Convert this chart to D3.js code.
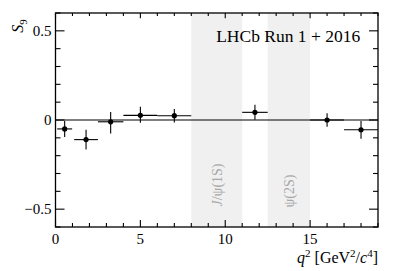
<!DOCTYPE html>
<html>
<head>
<meta charset="utf-8">
<script src="https://cdn.jsdelivr.net/npm/d3@7"></script>
<style>
  body { margin: 0; background: #fff; }
  svg { display: block; }
  text { font-family: "Liberation Serif", "DejaVu Serif", serif; }
</style>
</head>
<body>
<svg id="chart" width="399" height="271"></svg>
<script>
// bin edges, values and errors
const binLow  = [0.1, 1.1, 2.5, 4.0, 6.0, 11.0, 15.0, 17.0];
const binHigh = [0.98, 2.5, 4.0, 6.0, 8.0, 12.5, 17.0, 19.0];
const s9      = [-0.05, -0.11, -0.01, 0.026, 0.024, 0.043, 0.0, -0.055];
const errUp   = [0.045, 0.055, 0.055, 0.048, 0.038, 0.042, 0.038, 0.05];
const errDown = [0.045, 0.055, 0.065, 0.042, 0.038, 0.042, 0.038, 0.05];

const vetoBands = [
  { lo: 8.0, hi: 11.0, label: "J/ψ(1S)" },
  { lo: 12.5, hi: 15.0, label: "ψ(2S)" }
];
const yTickLabels = [0.5, 0, -0.5];
const xTickLabels = [0, 5, 10, 15];

const margin = { top: 13, right: 21, bottom: 44, left: 55.5 };
const W = 399, H = 271;
const width = W - margin.left - margin.right;
const height = H - margin.top - margin.bottom;

const svg = d3.select('#chart');
const g = svg.append('g').attr('transform', `translate(${margin.left},${margin.top})`);

const x = d3.scaleLinear().domain([0, 19]).range([0, width]);
const y = d3.scaleLinear().domain([-0.6, 0.6]).range([height, 0]);

// veto bands
g.selectAll('.band').data(vetoBands).enter().append('rect')
  .attr('x', d => x(d.lo)).attr('width', d => x(d.hi) - x(d.lo))
  .attr('y', 0).attr('height', height)
  .attr('fill', '#f0f0f0');

g.selectAll('.band-label').data(vetoBands).enter().append('text')
  .attr('transform', (d, i) => `translate(${x((d.lo + d.hi) / 2) + 5},${i === 0 ? 172 : 178}) rotate(-90)`)
  .attr('text-anchor', 'middle')
  .attr('fill', '#a8a8a8')
  .style('font-size', '14px')
  .each(function(d) {
    const t = d3.select(this);
    if (d.label.startsWith('J')) {
      t.append('tspan').style('font-style', 'italic').text('J');
      t.append('tspan').text(d.label.slice(1));
    } else {
      t.text(d.label);
    }
  });

// zero line
g.append('line')
  .attr('x1', 0).attr('x2', width)
  .attr('y1', y(0)).attr('y2', y(0))
  .attr('stroke', '#000').attr('stroke-width', 1.1);

// ticks on all four sides
const xMinor = d3.range(0, 20, 1);
const yMinor = d3.range(-6, 7).map(v => v / 10);
const tick = g.append('g').attr('stroke', '#000').attr('stroke-width', 1.1);
xMinor.forEach(v => {
  const len = v % 5 === 0 ? 7 : 4;
  tick.append('line').attr('x1', x(v)).attr('x2', x(v)).attr('y1', height).attr('y2', height - len);
  tick.append('line').attr('x1', x(v)).attr('x2', x(v)).attr('y1', 0).attr('y2', len * 0.75);
});
yMinor.forEach(v => {
  const len = Math.abs(Math.round(v * 10)) % 5 === 0 ? 9 : 5;
  tick.append('line').attr('x1', 0).attr('x2', len).attr('y1', y(v)).attr('y2', y(v));
  tick.append('line').attr('x1', width).attr('x2', width - len).attr('y1', y(v)).attr('y2', y(v));
});

// frame
g.append('rect').attr('width', width).attr('height', height)
  .attr('fill', 'none').attr('stroke', '#000').attr('stroke-width', 1.3);

// tick labels
g.selectAll('.ylab').data(yTickLabels).enter().append('text')
  .attr('x', -4).attr('y', d => y(d)).attr('dy', '0.35em')
  .attr('text-anchor', 'end').style('font-size', '15px')
  .text(d => d === 0 ? '0' : (d < 0 ? '\u2212' + Math.abs(d) : d));

g.selectAll('.xlab').data(xTickLabels).enter().append('text')
  .attr('x', d => x(d)).attr('y', height + 17)
  .attr('text-anchor', 'middle').style('font-size', '15px')
  .text(d => d);

// axis titles
const yt = svg.append('text')
  .attr('transform', 'translate(23,26) rotate(-90)')
  .attr('text-anchor', 'middle').style('font-size', '16px');
yt.append('tspan').style('font-style', 'italic').text('S');
yt.append('tspan').attr('dy', 4).style('font-size', '11px').text('9');

const xt = svg.append('text')
  .attr('x', margin.left + width).attr('y', 263)
  .attr('text-anchor', 'end').style('font-size', '16px');
xt.append('tspan').style('font-style', 'italic').text('q');
xt.append('tspan').attr('dy', -6).style('font-size', '11px').text('2');
xt.append('tspan').attr('dy', 6).text(' [GeV');
xt.append('tspan').attr('dy', -6).style('font-size', '11px').text('2');
xt.append('tspan').attr('dy', 6).text('/');
xt.append('tspan').style('font-style', 'italic').text('c');
xt.append('tspan').attr('dy', -6).style('font-size', '11px').text('4');
xt.append('tspan').attr('dy', 6).text(']');

// LHCb label
g.append('text')
  .attr('x', x(17.95)).attr('y', 29)
  .attr('text-anchor', 'end').style('font-size', '17.5px')
  .text('LHCb Run 1 + 2016');

// data points
const pts = binLow.map((lo, i) => ({ lo, hi: binHigh[i], v: s9[i], up: errUp[i], dn: errDown[i] }));
const pg = g.append('g').attr('stroke', '#000').attr('stroke-width', 1.1);
pts.forEach(d => {
  const cx = x((d.lo + d.hi) / 2);
  pg.append('line').attr('x1', x(d.lo)).attr('x2', x(d.hi)).attr('y1', y(d.v)).attr('y2', y(d.v));
  pg.append('line').attr('x1', cx).attr('x2', cx).attr('y1', y(d.v + d.up)).attr('y2', y(d.v - d.dn));
  pg.append('circle').attr('cx', cx).attr('cy', y(d.v)).attr('r', 2.6).attr('fill', '#000').attr('stroke', 'none');
});
</script>
</body>
</html>
